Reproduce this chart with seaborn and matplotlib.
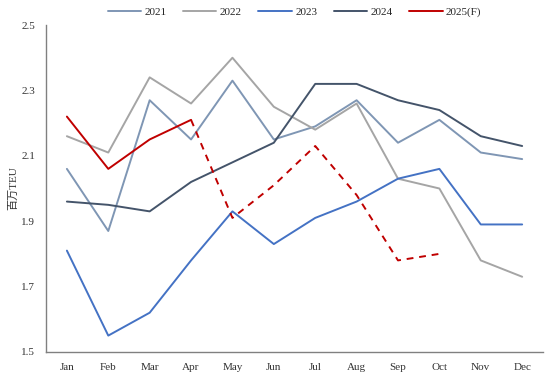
import pandas as pd
import seaborn as sns
import matplotlib.pyplot as plt

# monthly throughput, million TEU
months = ['Jan', 'Feb', 'Mar', 'Apr', 'May', 'Jun', 'Jul', 'Aug', 'Sep', 'Oct', 'Nov', 'Dec']
y2021 = [2.06, 1.87, 2.27, 2.15, 2.33, 2.15, 2.19, 2.27, 2.14, 2.21, 2.11, 2.09]
y2022 = [2.16, 2.11, 2.34, 2.26, 2.40, 2.25, 2.18, 2.26, 2.03, 2.00, 1.78, 1.73]
y2023 = [1.81, 1.55, 1.62, 1.78, 1.93, 1.83, 1.91, 1.96, 2.03, 2.06, 1.89, 1.89]
y2024 = [1.96, 1.95, 1.93, 2.02, 2.08, 2.14, 2.32, 2.32, 2.27, 2.24, 2.16, 2.13]
y2025_actual = [2.22, 2.06, 2.15, 2.21]
y2025_forecast = [2.21, 1.91, 2.01, 2.13, 1.98, 1.78, 1.80]  # Apr..Oct

sns.set_style('white')
plt.rcParams['font.family'] = ['Liberation Serif', 'Noto Sans CJK SC']

fig = plt.figure(figsize=(5.5, 3.74), dpi=100)
ax = fig.add_axes([0.084, 0.059, 0.903, 0.874])

x = list(range(len(months)))
series = [
    ('2021', y2021, '#7F96B4'),
    ('2022', y2022, '#A5A5A5'),
    ('2023', y2023, '#4472C4'),
    ('2024', y2024, '#44546A'),
]
for name, vals, col in series:
    sns.lineplot(x=x, y=vals, ax=ax, color=col, linewidth=1.4, label=name)

sns.lineplot(x=x[:len(y2025_actual)], y=y2025_actual, ax=ax, color='#C00000',
             linewidth=1.4, label='2025(F)')
start = len(y2025_actual) - 1
fc = sns.lineplot(x=x[start:start + len(y2025_forecast)], y=y2025_forecast, ax=ax,
                  color='#C00000', linewidth=1.4)
fc.lines[-1].set_dashes([3.5, 3])

ax.set_xlim(-0.5, 11.5)
ax.set_ylim(1.5, 2.5)
ax.set_yticks([1.5, 1.7, 1.9, 2.1, 2.3, 2.5])
ax.set_yticklabels(['1.5', '1.7', '1.9', '2.1', '2.3', '2.5'])
ax.set_xticks(x)
ax.set_xticklabels(months)
ax.set_xticks([i - 0.5 for i in range(13)], minor=True)
ax.tick_params(axis='x', which='major', length=0, pad=8, labelsize=8, colors='#333333')
ax.tick_params(axis='x', which='minor', length=4, color='#808080', width=1)
ax.tick_params(axis='y', length=4, color='#808080', width=1, labelsize=8,
               colors='#333333', pad=4)
for s in ['top', 'right']:
    ax.spines[s].set_visible(False)
for s in ['left', 'bottom']:
    ax.spines[s].set_color('#808080')
    ax.spines[s].set_linewidth(1)
ax.set_ylabel('百万TEU', fontsize=8, color='#333333', labelpad=2)

ax.legend(loc='upper center', bbox_to_anchor=(0.5, 1.085), ncol=5, frameon=False,
          fontsize=8, handlelength=3.0, columnspacing=1.5, handletextpad=0.3)

fig.savefig('out.png', dpi=100)
